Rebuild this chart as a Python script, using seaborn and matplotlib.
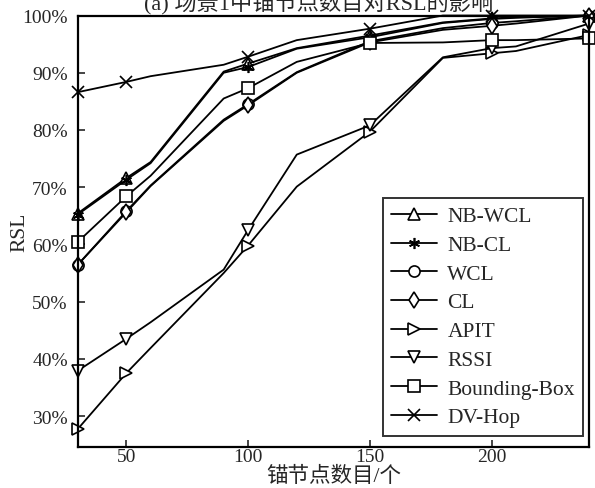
import matplotlib
matplotlib.use("Agg")
import matplotlib.pyplot as plt
from matplotlib.lines import Line2D
from matplotlib.ticker import FuncFormatter
import pandas as pd
import seaborn as sns

# Number of anchor nodes
anchors = [30, 50, 60, 90, 100, 120, 150, 180, 200, 210, 240]

# RSL (%) for each localisation algorithm
nb_wcl = [65.4, 71.6, 74.4, 90.2, 91.6, 94.3, 96.5, 98.8, 99.5, 99.7, 100.0]
nb_cl = [65.2, 71.3, 74.2, 90.0, 91.0, 94.2, 96.2, 98.7, 99.4, 99.6, 100.0]
wcl = [56.4, 65.8, 70.3, 81.8, 84.5, 90.1, 95.5, 97.8, 98.7, 99.0, 100.0]
cl = [56.4, 65.6, 70.2, 81.6, 84.3, 90.0, 95.3, 97.5, 98.2, 98.6, 100.0]
apit = [27.7, 37.5, 41.9, 55.0, 59.8, 70.1, 79.7, 92.6, 93.4, 93.8, 96.6]
rssi = [37.9, 43.5, 46.4, 55.6, 62.5, 75.7, 80.8, 92.7, 94.3, 94.6, 98.6]
bounding_box = [60.4, 68.4, 72.0, 85.5, 87.3, 91.9, 95.2, 95.3, 95.7, 95.7, 96.0]
dv_hop = [86.6, 88.4, 89.4, 91.4, 92.8, 95.7, 97.7, 100.0, 100.0, 100.0, 100.0]

series_names = ["NB-WCL", "NB-CL", "WCL", "CL", "APIT", "RSSI", "Bounding-Box", "DV-Hop"]
series_values = [nb_wcl, nb_cl, wcl, cl, apit, rssi, bounding_box, dv_hop]

x_ticks = [50, 100, 150, 200]
y_ticks = [30, 40, 50, 60, 70, 80, 90, 100]
marked_anchors = [30, 50, 100, 150, 200, 240]

title_text = "(a) 场景1中锚节点数目对RSL的影响"
x_label = "锚节点数目/个"
y_label = "RSL"

markers = ["^", (6, 2, 0), "o", "d", ">", "v", "s", "x"]

sns.set_style("ticks")
plt.rcParams["font.family"] = ["Liberation Serif", "Noto Sans CJK SC"]
plt.rcParams["font.size"] = 14

df = pd.DataFrame(
    [(n, x, v) for n, vals in zip(series_names, series_values) for x, v in zip(anchors, vals)],
    columns=["algorithm", "anchors", "rsl"],
)

fig = plt.figure(figsize=(5.95, 4.89), dpi=100)
ax = fig.add_axes([0.1303, 0.0838, 0.8597, 0.8824])

mark_idx = [anchors.index(a) for a in marked_anchors]
line_kw = dict(color="black", linewidth=1.3, markersize=8, markerfacecolor="white",
               markeredgecolor="black", markeredgewidth=1.2)
handles = []
for name, mk in zip(series_names, markers):
    sub = df[df["algorithm"] == name]
    sns.lineplot(
        data=sub, x="anchors", y="rsl", ax=ax, estimator=None, sort=False,
        marker=mk, markevery=mark_idx, clip_on=False, legend=False, **line_kw,
    )
    handles.append(Line2D([], [], marker=mk, label=name, **line_kw))

ax.set_xlim(30, 240)
ax.set_ylim(24.6, 100)
ax.set_xticks(x_ticks)
ax.set_yticks(y_ticks)
ax.yaxis.set_major_formatter(FuncFormatter(lambda v, p: f"{v:.0f}%"))
ax.tick_params(direction="in", length=5, width=1.2, labelsize=14,
               top=False, right=False)
ax.tick_params(axis="x", pad=0.5)
ax.tick_params(axis="y", pad=7)
for s in ax.spines.values():
    s.set_linewidth(1.6)
    s.set_color("black")

ax.set_xlabel(x_label, fontsize=15.5, labelpad=1)
ax.set_ylabel(y_label, fontsize=15.5, labelpad=-5)

leg = ax.legend(handles=handles, loc="lower right", bbox_to_anchor=(0.989, 0.026),
                borderaxespad=0, frameon=True, fancybox=False, fontsize=15.5,
                handlelength=2.1, handletextpad=0.5, labelspacing=0.4,
                borderpad=0.4)
leg.get_frame().set_edgecolor("black")
leg.get_frame().set_linewidth(1.4)

fig.text(0.535, 1 - 10 / 489, title_text, ha="center", va="baseline", fontsize=16)

fig.savefig("out.png", dpi=100)
